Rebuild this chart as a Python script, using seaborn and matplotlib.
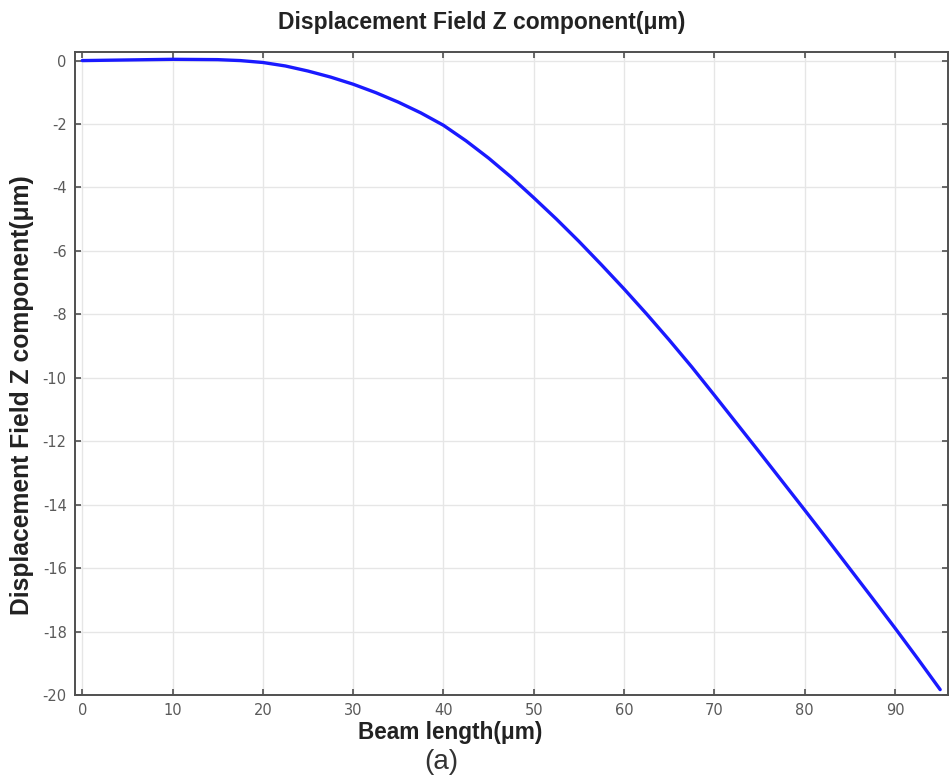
import numpy as np
import pandas as pd
import matplotlib
matplotlib.use("Agg")
import matplotlib.pyplot as plt
import seaborn as sns

# Data
beam_length = [0, 5, 10, 15, 17.5, 20, 22.5, 25, 27.5, 30, 32.5, 35, 37.5, 40,
               42.5, 45, 47.5, 50, 52.5, 55, 57.5, 60, 62.5, 65, 67.5, 70,
               72.5, 75, 77.5, 80, 82.5, 85, 87.5, 90, 92.5, 95]
displacement_z = [0.0, 0.02, 0.04, 0.03, 0.0, -0.06, -0.17, -0.33, -0.52, -0.745,
                  -1.01, -1.31, -1.65, -2.04, -2.53, -3.075, -3.675, -4.325,
                  -4.995, -5.70, -6.44, -7.20, -7.99, -8.81, -9.66, -10.55,
                  -11.45, -12.35, -13.26, -14.17, -15.09, -16.02, -16.95, -17.89,
                  -18.85, -19.83]
x_ticks = [0, 10, 20, 30, 40, 50, 60, 70, 80, 90]
y_ticks = [0, -2, -4, -6, -8, -10, -12, -14, -16, -18, -20]

df = pd.DataFrame({"Beam length": beam_length, "Displacement": displacement_z})

sns.set_style("whitegrid")
plt.rcParams['font.family'] = ['DejaVu Sans']
plt.rcParams['axes.unicode_minus'] = False

W, H = 953, 780
fig = plt.figure(figsize=(W / 100, H / 100), dpi=100)
ax = fig.add_axes([75 / W, 1 - 695 / H, (948.3 - 75) / W, (695 - 51.7) / H])

sns.lineplot(data=df, x="Beam length", y="Displacement", ax=ax,
             color="#1a1aff", linewidth=2.4, estimator=None, sort=False)

ax.set_xlim(-0.8, 95.9)
ax.set_ylim(-20.0, 0.28)
ax.set_xticks(x_ticks)
ax.set_yticks(y_ticks)
ax.set_xlabel("")
ax.set_ylabel("")

ax.grid(True, color="#e6e6e6", linewidth=1.0)
for s in ax.spines.values():
    s.set_color("#505050")
    s.set_linewidth(1.4)
    s.set_visible(True)
ax.tick_params(axis="both", direction="in", length=4, width=1.2, color="#505050",
               labelsize=10.5, labelcolor="#5a5a5a", top=True, right=True,
               labeltop=False, labelright=False, bottom=True, left=True)
ax.tick_params(axis="x", pad=6)
ax.tick_params(axis="y", pad=6)

lab_font = ['Liberation Sans', 'DejaVu Sans']
fig.text(481.5 / W, 1 - 22 / H, "Displacement Field Z component(μm)", ha="center",
         va="center", fontsize=16.5, fontweight="bold", color="#222222", family=lab_font)
fig.text(450 / W, 1 - 732 / H, "Beam length(μm)", ha="center", va="center",
         fontsize=16.3, fontweight="bold", color="#222222", family=lab_font)
fig.text(441 / W, 1 - 762 / H, "(a)", ha="center", va="center",
         fontsize=20, color="#333333", family=lab_font)
fig.text(22 / W, 1 - 395 / H, "Displacement Field Z component(μm)", ha="center",
         va="center", rotation=90, fontsize=17.7, fontweight="bold", color="#222222",
         family=lab_font)

fig.savefig("out.png", dpi=100)
